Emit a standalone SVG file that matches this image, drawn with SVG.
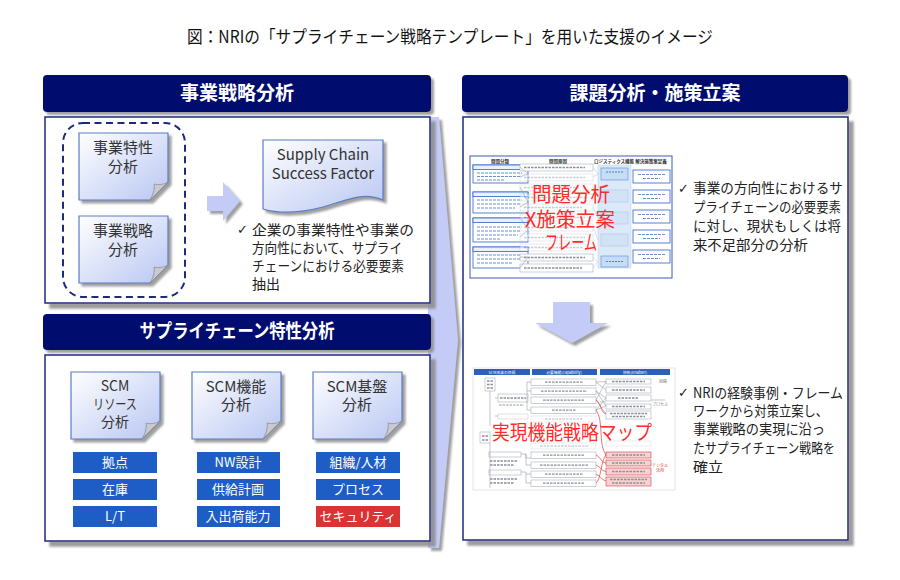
<svg xmlns="http://www.w3.org/2000/svg" width="900" height="580" viewBox="0 0 900 580">
<defs>
<style>
text{font-family:"Noto Sans CJK JP","Noto Sans",sans-serif}
.hdr{fill:#030c6e}
.hdrt{font-size:19px;font-weight:bold;fill:#fff;text-anchor:middle}
.panel{fill:#fff;stroke:#1c2a80;stroke-width:1.5}
.pt{font-size:15px;fill:#333;text-anchor:middle}
.pts{font-size:14px;fill:#333;text-anchor:middle}
.lbl{fill:#1f5dc6}
.lblr{fill:#d93333}
.lt{font-size:13px;fill:#fff;text-anchor:middle}
.bt{font-size:14px;fill:#222}
.ck{font-family:"DejaVu Sans",sans-serif;font-size:13px;fill:#222}
.red{font-size:20px;fill:#ff2b2b;text-anchor:middle}
.af{fill:#c4cbf6}
.tb{fill:#fff;stroke:#2f63c8;stroke-width:0.8}
.tg{fill:#fff;stroke:#a8aebb;stroke-width:0.6}
.bar{stroke:#8a8f9a;stroke-width:1.3;stroke-dasharray:2.5 1}
.bbar{stroke:#6d8fd4;stroke-width:1.2;stroke-dasharray:3 1}
.tiny{font-size:4.5px;fill:#333;text-anchor:middle;font-weight:bold}
.tinyw{font-size:3.8px;fill:#fff;text-anchor:middle}
.cn{stroke:#9aa0aa;stroke-width:0.6;fill:none}
.cr{stroke:#e03a3a;stroke-width:0.7;fill:none}
.pk{fill:#f8d2d2;stroke:#d04040;stroke-width:0.6}
</style>
<linearGradient id="pg" x1="0" y1="0" x2="1" y2="1">
<stop offset="0" stop-color="#ffffff"/>
<stop offset="1" stop-color="#b8c6f2"/>
</linearGradient>
<filter id="sh" x="-10%" y="-10%" width="130%" height="130%">
<feDropShadow dx="5" dy="5" stdDeviation="1" flood-color="#8c8c8c" flood-opacity="0.85"/>
</filter>
<filter id="sh2" x="-10%" y="-10%" width="130%" height="130%">
<feDropShadow dx="3" dy="3" stdDeviation="1" flood-color="#888" flood-opacity="0.8"/>
</filter>
<g id="page">
<path d="M0,0H89V49L71,67H0Z" fill="url(#pg)" stroke="#5b7cc6" stroke-width="1.2"/>
<path d="M71,67L89,49C84,52 79,52 75,51C76,56 74,62 71,67Z" fill="#c9c9ce" stroke="#8e8e96" stroke-width="0.8"/>
</g>
</defs>

<rect width="900" height="580" fill="#fff"/>

<text x="187" y="43" font-size="17" fill="#111" textLength="526" lengthAdjust="spacingAndGlyphs">図：NRIの「サプライチェーン戦略テンプレート」を用いた支援のイメージ</text>

<!-- big chevron -->
<g id="chevron">
<polygon class="af" filter="url(#sh2)" points="428,117 439,117 458,340 439,548 428,548"/>
</g>

<!-- left top -->
<g id="bizStrategy">
<rect class="hdr" x="43" y="75" width="388" height="37" rx="4" filter="url(#sh2)"/>
<text class="hdrt" x="237" y="100">事業戦略分析</text>
<rect class="panel" x="45" y="117" width="385" height="186" filter="url(#sh)"/>
<rect x="63" y="123" width="122" height="174" rx="20" fill="none" stroke="#1c2a80" stroke-width="2" stroke-dasharray="7 4.5"/>
</g>
<g id="page-biz-char">
<use href="#page" x="79" y="133" filter="url(#sh2)"/>
<text class="pt" x="123" y="153">事業特性</text>
<text class="pt" x="123" y="172">分析</text>
</g>
<g id="page-biz-strat">
<use href="#page" x="79" y="216" filter="url(#sh2)"/>
<text class="pt" x="123" y="236">事業戦略</text>
<text class="pt" x="123" y="255">分析</text>
</g>
<g id="arrow-small">
<polygon class="af" filter="url(#sh2)" points="207,196 223,196 223,182 240,201 223,221 223,211 207,211"/>
</g>
<g id="scsf">
<path d="M263,140H383V200C362,191 345,201 323,207C300,213 280,214 263,209Z" fill="url(#pg)" stroke="#5b7cc6" stroke-width="1.2" filter="url(#sh2)"/>
<text class="pt" x="323" y="160">Supply Chain</text>
<text class="pt" x="323" y="179">Success Factor</text>
</g>
<g id="bullet-left">
<text class="ck" x="237" y="234">✓</text>
<text class="bt" x="252" y="235" textLength="162" lengthAdjust="spacingAndGlyphs">企業の事業特性や事業の</text>
<text class="bt" x="252" y="253" textLength="150" lengthAdjust="spacingAndGlyphs">方向性において、サプライ</text>
<text class="bt" x="252" y="271" textLength="152" lengthAdjust="spacingAndGlyphs">チェーンにおける必要要素</text>
<text class="bt" x="252" y="289" textLength="28" lengthAdjust="spacingAndGlyphs">抽出</text>
</g>

<!-- left bottom -->
<g id="scChar">
<rect class="hdr" x="43" y="314" width="388" height="36" rx="4" filter="url(#sh2)"/>
<text class="hdrt" x="237" y="338" font-size="18" textLength="195" lengthAdjust="spacingAndGlyphs">サプライチェーン特性分析</text>
<rect class="panel" x="45" y="355" width="385" height="186" filter="url(#sh)"/>
</g>
<g id="page-scm-res">
<use href="#page" x="71" y="372" filter="url(#sh2)"/>
<text class="pts" x="115" y="391">SCM</text>
<text class="pts" x="115" y="409" textLength="44" lengthAdjust="spacingAndGlyphs">リソース</text>
<text class="pts" x="115" y="427">分析</text>
</g>
<g id="page-scm-func">
<use href="#page" x="192" y="372" filter="url(#sh2)"/>
<text class="pt" x="236" y="392">SCM機能</text>
<text class="pt" x="236" y="410">分析</text>
</g>
<g id="page-scm-base">
<use href="#page" x="313" y="372" filter="url(#sh2)"/>
<text class="pt" x="357" y="392">SCM基盤</text>
<text class="pt" x="357" y="410">分析</text>
</g>
<g id="labels">
<rect class="lbl" x="73" y="452" width="84" height="21"/><text class="lt" x="115" y="467">拠点</text>
<rect class="lbl" x="73" y="479" width="84" height="21"/><text class="lt" x="115" y="494">在庫</text>
<rect class="lbl" x="73" y="506" width="84" height="21"/><text class="lt" x="115" y="521">L/T</text>
<rect class="lbl" x="197" y="452" width="83" height="21"/><text class="lt" x="238" y="467">NW設計</text>
<rect class="lbl" x="197" y="479" width="83" height="21"/><text class="lt" x="238" y="494">供給計画</text>
<rect class="lbl" x="197" y="506" width="83" height="21"/><text class="lt" x="238" y="521">入出荷能力</text>
<rect class="lbl" x="316" y="452" width="84" height="21"/><text class="lt" x="358" y="467">組織/人材</text>
<rect class="lbl" x="316" y="479" width="84" height="21"/><text class="lt" x="358" y="494">プロセス</text>
<rect class="lblr" x="316" y="506" width="84" height="21"/><text class="lt" x="358" y="521">セキュリティ</text>
</g>

<!-- right -->
<g id="issueAnalysis">
<rect class="hdr" x="462" y="75" width="386" height="37" rx="4" filter="url(#sh2)"/>
<text class="hdrt" x="655" y="100">課題分析・施策立案</text>
<rect class="panel" x="463" y="117" width="385" height="423" filter="url(#sh)"/>
</g>

<g id="thumb1">
<rect x="470" y="156" width="202" height="122" fill="#fff" stroke="#3c5cb0" stroke-width="1"/>
<text class="tiny" x="500" y="163">問題分類</text>
<text class="tiny" x="558" y="163">問題原因</text>
<text class="tiny" x="614" y="163">ロジスティクス機能</text>
<text class="tiny" x="651" y="163">解決施策案定義</text>
<rect class="tb" x="473" y="165" width="55" height="18"/><rect x="473" y="165" width="55" height="4.5" fill="#eaf0fc" stroke="#2f63c8" stroke-width="0.8"/>
<line class="bbar" x1="477" y1="173" x2="522" y2="173"/><line class="bbar" x1="477" y1="176.5" x2="520" y2="176.5"/><line class="bbar" x1="477" y1="180" x2="505" y2="180"/>
<rect class="tb" x="473" y="192" width="55" height="21"/><rect x="473" y="192" width="55" height="4.5" fill="#eaf0fc" stroke="#2f63c8" stroke-width="0.8"/>
<line class="bbar" x1="477" y1="200" x2="522" y2="200"/><line class="bbar" x1="477" y1="204" x2="520" y2="204"/><line class="bbar" x1="477" y1="208" x2="515" y2="208"/>
<rect class="tb" x="473" y="218" width="55" height="24"/><rect x="473" y="218" width="55" height="4.5" fill="#eaf0fc" stroke="#2f63c8" stroke-width="0.8"/>
<line class="bbar" x1="477" y1="227" x2="522" y2="227"/><line class="bbar" x1="477" y1="231" x2="520" y2="231"/><line class="bbar" x1="477" y1="235" x2="518" y2="235"/><line class="bbar" x1="477" y1="239" x2="500" y2="239"/>
<rect class="tb" x="473" y="247" width="55" height="21"/><rect x="473" y="247" width="55" height="4.5" fill="#eaf0fc" stroke="#2f63c8" stroke-width="0.8"/>
<line class="bbar" x1="477" y1="255" x2="522" y2="255"/><line class="bbar" x1="477" y1="259" x2="520" y2="259"/><line class="bbar" x1="477" y1="263" x2="512" y2="263"/>
<g>
<rect class="tg" x="520" y="164" width="73" height="7"/><line class="bar" x1="524" y1="167.5" x2="585" y2="167.5"/>
<g opacity="0.45">
<rect class="tg" x="520" y="174" width="73" height="7"/><line class="bar" x1="524" y1="177.5" x2="585" y2="177.5"/>
<rect class="tg" x="520" y="184" width="73" height="7"/><line class="bar" x1="524" y1="187.5" x2="580" y2="187.5"/>
<rect class="tg" x="520" y="194" width="73" height="7"/><line class="bar" x1="524" y1="197.5" x2="585" y2="197.5"/>
<rect class="tg" x="520" y="204" width="73" height="7"/><line class="bar" x1="524" y1="207.5" x2="582" y2="207.5"/>
<rect class="tg" x="520" y="214" width="73" height="7"/><line class="bar" x1="524" y1="217.5" x2="585" y2="217.5"/>
<rect class="tg" x="520" y="224" width="73" height="7"/><line class="bar" x1="524" y1="227.5" x2="578" y2="227.5"/>
<rect class="tg" x="520" y="234" width="73" height="7"/><line class="bar" x1="524" y1="237.5" x2="585" y2="237.5"/>
<rect class="tg" x="520" y="244" width="73" height="7"/><line class="bar" x1="524" y1="247.5" x2="583" y2="247.5"/>
</g>
<rect class="tg" x="520" y="254" width="73" height="7"/><line class="bar" x1="524" y1="257.5" x2="585" y2="257.5"/>
<rect class="tg" x="520" y="264" width="73" height="8"/><line class="bar" x1="524" y1="268" x2="582" y2="268"/>
</g>
<path class="cn" d="M528,174L520,167M528,174L520,177M528,202L520,187M528,202L520,207M528,230L520,217M528,230L520,237M528,257L520,257M528,257L520,268"/>
<rect x="598" y="165" width="33" height="103" fill="#dce9f8" stroke="#c0d4ee" stroke-width="0.6"/>
<path d="M593,167L598,174M593,177L598,174M593,187L598,196M593,207L598,218M593,227L598,240M593,257L598,262M593,268L598,262" stroke="#b8cfee" stroke-width="0.6" fill="none"/>
<rect x="601" y="168" width="27" height="12" fill="#c7dcf5" stroke="#5d8fd2" stroke-width="0.6"/>
<line x1="606" y1="172" x2="623" y2="172" stroke="#4e7fcc" stroke-width="1.2" stroke-dasharray="2 1"/>
<g opacity="0.4">
<rect x="601" y="190" width="27" height="12" fill="#c7dcf5" stroke="#5d8fd2" stroke-width="0.6"/>
<rect x="601" y="212" width="27" height="12" fill="#c7dcf5" stroke="#5d8fd2" stroke-width="0.6"/>
<rect x="601" y="234" width="27" height="12" fill="#c7dcf5" stroke="#5d8fd2" stroke-width="0.6"/>
</g>
<rect x="601" y="256" width="27" height="11" fill="#c7dcf5" stroke="#5d8fd2" stroke-width="0.6"/>
<line x1="606" y1="261.5" x2="623" y2="261.5" stroke="#4e7fcc" stroke-width="1.2" stroke-dasharray="2 1"/>
<g>
<rect class="tb" x="633" y="170" width="37" height="13" stroke="#4c7ccc"/><line class="bbar" x1="638" y1="174.5" x2="665" y2="174.5"/><line class="bbar" x1="643" y1="178.5" x2="660" y2="178.5"/>
<rect class="tb" x="633" y="190" width="37" height="13" stroke="#4c7ccc"/><line class="bbar" x1="638" y1="194.5" x2="665" y2="194.5"/><line class="bbar" x1="643" y1="198.5" x2="660" y2="198.5"/>
<rect class="tb" x="633" y="210" width="37" height="13" stroke="#4c7ccc"/><line class="bbar" x1="638" y1="214.5" x2="665" y2="214.5"/><line class="bbar" x1="643" y1="218.5" x2="660" y2="218.5"/>
<rect class="tb" x="633" y="230" width="37" height="13" stroke="#4c7ccc"/><line class="bbar" x1="638" y1="234.5" x2="665" y2="234.5"/><line class="bbar" x1="643" y1="238.5" x2="660" y2="238.5"/>
<rect class="tb" x="633" y="250" width="37" height="13" stroke="#4c7ccc"/><line class="bbar" x1="638" y1="254.5" x2="665" y2="254.5"/><line class="bbar" x1="643" y1="258.5" x2="660" y2="258.5"/>
</g>
<text class="red" x="571" y="202" textLength="78" lengthAdjust="spacingAndGlyphs">問題分析</text>
<text class="red" x="570" y="227" textLength="90" lengthAdjust="spacingAndGlyphs">X施策立案</text>
<text class="red" x="571" y="250" textLength="52" lengthAdjust="spacingAndGlyphs">フレーム</text>
</g>

<g id="bullet-right1">
<text class="ck" x="678" y="193">✓</text>
<text class="bt" x="693" y="193" textLength="150" lengthAdjust="spacingAndGlyphs">事業の方向性におけるサ</text>
<text class="bt" x="693" y="212" textLength="148" lengthAdjust="spacingAndGlyphs">プライチェーンの必要要素</text>
<text class="bt" x="693" y="231" textLength="148" lengthAdjust="spacingAndGlyphs">に対し、現状もしくは将</text>
<text class="bt" x="693" y="250" textLength="115" lengthAdjust="spacingAndGlyphs">来不足部分の分析</text>
</g>

<g id="arrow-down">
<polygon class="af" filter="url(#sh2)" points="553,302 590,302 590,323 608,323 572,343 535,323 553,323"/>
</g>

<g id="thumb2">
<rect x="473" y="368" width="202" height="122" fill="#fff" stroke="#d4d4d4" stroke-width="0.6"/>
<rect x="474" y="369" width="56" height="6" fill="#2b5fba"/>
<rect x="532" y="369" width="65" height="6" fill="#2b5fba"/>
<rect x="600" y="369" width="70" height="6" fill="#2b5fba"/>
<text class="tinyw" x="502" y="373.6">SCM改革の目標</text>
<text class="tinyw" x="564" y="373.6">必要機能(Capability)</text>
<text class="tinyw" x="635" y="373.6">技術(Enabler)</text>
<rect class="tg" x="485" y="378" width="10" height="13" stroke="#777"/>
<line class="bar" x1="487" y1="381" x2="493" y2="381"/><line class="bar" x1="487" y1="384.5" x2="493" y2="384.5"/><line class="bar" x1="487" y1="388" x2="493" y2="388"/>
<rect class="tg" x="498" y="394" width="30" height="8" stroke="#777"/><line class="bar" x1="500" y1="398" x2="526" y2="398"/>
<line class="bar" x1="499" y1="405" x2="524" y2="405" opacity="0.6"/>
<rect class="tg" x="498" y="414" width="30" height="5" stroke="#999" opacity="0.6"/>
<rect class="tg" x="480" y="432" width="10" height="11" stroke="#999"/>
<line class="bar" x1="482" y1="436" x2="488" y2="436"/><line class="bar" x1="482" y1="440" x2="488" y2="440"/>
<rect class="tg" x="489" y="452" width="32" height="5" stroke="#777"/><line class="bar" x1="490" y1="461" x2="518" y2="461"/><line class="bar" x1="490" y1="465" x2="514" y2="465"/>
<rect class="tg" x="489" y="470" width="32" height="5" stroke="#777"/><line class="bar" x1="490" y1="479" x2="518" y2="479"/><line class="bar" x1="490" y1="483" x2="514" y2="483"/>
<path class="cn" d="M490,391V426M490,443V488M495,398H498M495,416H498M490,454H489M490,472H489M528,398H527V382H531M527,398V410H531M527,391H531M521,454H526V458H531M526,454V465H531M521,472H526V474H531M526,474V483H531"/>
<g>
<rect class="tg" x="531" y="379" width="65" height="6.5" stroke="#777"/><line class="bar" x1="545" y1="382.2" x2="583" y2="382.2"/>
<rect class="tg" x="531" y="388" width="65" height="6.5" stroke="#777"/><line class="bar" x1="541" y1="391.2" x2="587" y2="391.2"/>
<rect class="tg" x="531" y="397" width="65" height="6.5" stroke="#777"/><line class="bar" x1="543" y1="400.2" x2="585" y2="400.2"/>
<rect class="tg" x="531" y="407" width="65" height="6.5" stroke="#777"/><line class="bar" x1="552" y1="410.2" x2="576" y2="410.2"/>
<g opacity="0.4">
<rect class="tg" x="531" y="416" width="65" height="6" stroke="#777"/><line class="bar" x1="545" y1="419" x2="583" y2="419"/>
<rect class="tg" x="531" y="443" width="65" height="6" stroke="#777"/><line class="bar" x1="540" y1="446" x2="588" y2="446"/>
<rect class="tg" x="606" y="441" width="45" height="5" stroke="#777"/>
</g>
<rect class="tg" x="531" y="452" width="65" height="6.5" stroke="#777"/><line class="bar" x1="543" y1="455.2" x2="585" y2="455.2"/>
<rect class="tg" x="531" y="462" width="65" height="6.5" stroke="#777"/><line class="bar" x1="540" y1="465.2" x2="588" y2="465.2"/>
<rect class="tg" x="531" y="471" width="65" height="6.5" stroke="#777"/><line class="bar" x1="545" y1="474.2" x2="583" y2="474.2"/>
<rect class="tg" x="531" y="480" width="65" height="6.5" stroke="#777"/><line class="bar" x1="543" y1="483.2" x2="585" y2="483.2"/>
</g>
<g>
<rect class="tg" x="606" y="379" width="45" height="5" stroke="#777"/><line class="bar" x1="612" y1="381.5" x2="645" y2="381.5"/>
<rect class="tg" x="606" y="387" width="45" height="6" stroke="#777"/><line class="bar" x1="612" y1="390" x2="645" y2="390"/>
<rect class="tg" x="606" y="395" width="45" height="6" stroke="#777"/><line class="bar" x1="618" y1="398" x2="639" y2="398"/>
<rect class="tg" x="606" y="404" width="45" height="5" stroke="#777"/><line class="bar" x1="612" y1="406.5" x2="645" y2="406.5"/>
<rect class="tg" x="606" y="411" width="45" height="8" stroke="#777"/><line class="bar" x1="610" y1="413.5" x2="647" y2="413.5"/><line class="bar" x1="612" y1="416.5" x2="645" y2="416.5"/>
<rect class="pk" x="606" y="452" width="45" height="6"/><line class="bar" x1="612" y1="455" x2="645" y2="455"/>
<rect class="pk" x="606" y="460" width="45" height="6"/><line class="bar" x1="612" y1="463" x2="645" y2="463"/>
<rect class="pk" x="606" y="468" width="45" height="7"/><line class="bar" x1="612" y1="471.5" x2="645" y2="471.5"/>
<rect class="pk" x="606" y="477" width="45" height="9"/><line class="bar" x1="610" y1="479.5" x2="647" y2="479.5"/><line class="bar" x1="612" y1="483" x2="645" y2="483"/>
</g>
<path class="cn" d="M596,382L606,381.5M596,382L606,390M596,391L606,398M596,391L606,406M596,400L606,381.5M596,400L606,414M596,410L606,398M596,410L606,406M651,400H665M600,402H606"/>
<path class="cr" d="M596,400C602,404 600,412 606,414M596,410C604,420 598,445 606,455M596,455C602,458 600,462 606,463M596,465C602,468 600,470 606,471.5M596,474C602,477 600,479 606,481M596,483C601,480 601,460 606,455"/>
<text x="663" y="383" font-size="4" fill="#888" text-anchor="middle">組織</text>
<text x="660" y="406" font-size="4" fill="#888" text-anchor="middle">プロセス</text>
<text x="660" y="467" font-size="4" fill="#e03a3a" text-anchor="middle">デジタル</text>
<text x="660" y="472" font-size="4" fill="#e03a3a" text-anchor="middle">活用</text>
<text class="red" x="572" y="440" textLength="160" lengthAdjust="spacingAndGlyphs">実現機能戦略マップ</text>
</g>

<g id="bullet-right2">
<text class="ck" x="678" y="397">✓</text>
<text class="bt" x="693" y="398" textLength="150" lengthAdjust="spacingAndGlyphs">NRIの経験事例・フレーム</text>
<text class="bt" x="693" y="416" textLength="135" lengthAdjust="spacingAndGlyphs">ワークから対策立案し、</text>
<text class="bt" x="693" y="434" textLength="132" lengthAdjust="spacingAndGlyphs">事業戦略の実現に沿っ</text>
<text class="bt" x="693" y="453" textLength="142" lengthAdjust="spacingAndGlyphs">たサプライチェーン戦略を</text>
<text class="bt" x="693" y="472" textLength="30" lengthAdjust="spacingAndGlyphs">確立</text>
</g>
</svg>
